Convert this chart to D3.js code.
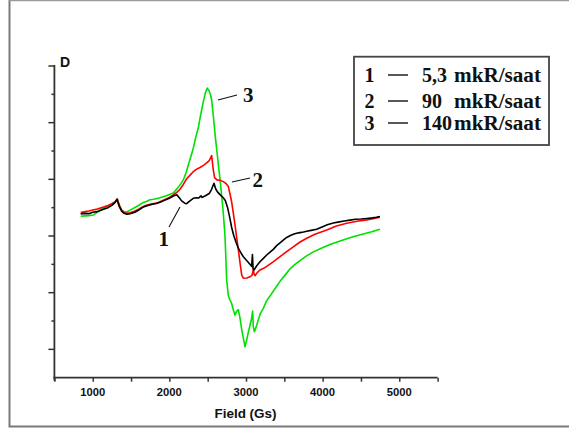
<!DOCTYPE html>
<html><head><meta charset="utf-8">
<script src="https://cdn.jsdelivr.net/npm/d3@7"></script>
<style>body{margin:0;background:#fff}svg{display:block}</style>
</head><body>
<script>
// Data (Field in Gs, D in arbitrary units; y axis unlabelled)
const series1 = [[843,5.78],[900,5.80],[950,5.79],[1000,5.84],[1060,5.86],[1100,5.90],[1150,5.95],[1200,6.00],[1250,6.08],[1290,6.18],[1315,6.29],[1345,6.05],[1378,5.88],[1410,5.80],[1444,5.77],[1490,5.79],[1550,5.84],[1600,5.92],[1660,6.02],[1720,6.08],[1780,6.12],[1830,6.15],[1878,6.19],[1920,6.24],[1960,6.29],[2000,6.33],[2052,6.41],[2096,6.46],[2130,6.35],[2160,6.24],[2200,6.16],[2226,6.14],[2260,6.22],[2312,6.33],[2350,6.35],[2380,6.34],[2413,6.42],[2425,6.36],[2470,6.42],[2520,6.50],[2550,6.64],[2582,6.86],[2605,6.66],[2630,6.55],[2661,6.46],[2700,6.36],[2730,6.25],[2760,6.00],[2790,5.62],[2813,5.30],[2840,5.02],[2870,4.78],[2900,4.57],[2935,4.40],[2965,4.27],[3000,4.16],[3040,4.04],[3074,3.93],[3084,4.35],[3092,3.85],[3104,3.80],[3140,3.95],[3182,4.09],[3230,4.22],[3270,4.33],[3310,4.42],[3356,4.53],[3400,4.66],[3444,4.76],[3490,4.86],[3531,4.95],[3580,5.02],[3617,5.06],[3660,5.10],[3704,5.12],[3750,5.14],[3792,5.17],[3850,5.20],[3922,5.24],[4000,5.33],[4060,5.40],[4139,5.46],[4200,5.49],[4280,5.53],[4357,5.56],[4430,5.59],[4500,5.60],[4575,5.62],[4650,5.64],[4700,5.66],[4748,5.69]];
const series2 = [[843,5.83],[900,5.86],[950,5.88],[1000,5.92],[1060,5.95],[1100,5.99],[1150,6.03],[1200,6.08],[1250,6.14],[1290,6.20],[1321,6.31],[1350,6.06],[1378,5.90],[1410,5.82],[1444,5.80],[1490,5.82],[1550,5.88],[1600,5.95],[1660,6.04],[1720,6.10],[1780,6.14],[1830,6.16],[1878,6.21],[1920,6.26],[1960,6.31],[2000,6.36],[2052,6.45],[2100,6.55],[2139,6.65],[2182,6.82],[2226,7.02],[2270,7.15],[2312,7.27],[2356,7.36],[2400,7.42],[2450,7.50],[2487,7.58],[2520,7.66],[2552,7.84],[2570,7.40],[2590,7.06],[2620,6.98],[2661,6.97],[2704,6.92],[2740,6.85],[2769,6.75],[2790,6.50],[2813,6.20],[2835,5.80],[2856,5.40],[2878,4.95],[2900,4.52],[2922,4.05],[2944,3.62],[2965,3.51],[3010,3.52],[3052,3.56],[3080,3.62],[3095,3.82],[3105,3.66],[3117,3.60],[3150,3.72],[3182,3.80],[3230,3.86],[3270,3.93],[3350,4.08],[3444,4.27],[3530,4.45],[3617,4.62],[3700,4.78],[3792,4.92],[3900,5.06],[4053,5.21],[4180,5.35],[4314,5.45],[4450,5.52],[4575,5.57],[4660,5.61],[4748,5.66]];
const series3 = [[843,5.70],[900,5.71],[950,5.72],[1008,5.74],[1060,5.84],[1100,5.93],[1138,5.98],[1200,6.06],[1250,6.14],[1290,6.20],[1321,6.30],[1350,6.08],[1378,5.92],[1410,5.86],[1444,5.85],[1500,5.93],[1574,6.04],[1650,6.17],[1700,6.22],[1748,6.28],[1800,6.30],[1878,6.35],[1960,6.42],[2052,6.52],[2110,6.70],[2150,6.85],[2182,6.98],[2220,7.25],[2252,7.55],[2280,7.80],[2312,8.10],[2346,8.50],[2380,8.85],[2410,9.30],[2440,9.70],[2470,10.05],[2495,10.22],[2520,10.12],[2540,9.95],[2552,9.80],[2575,9.20],[2595,8.62],[2620,8.00],[2640,7.50],[2661,7.00],[2685,6.35],[2704,5.80],[2726,5.00],[2748,3.45],[2769,2.90],[2790,2.75],[2813,2.62],[2834,2.40],[2856,2.21],[2880,2.35],[2900,2.40],[2922,2.10],[2944,1.70],[2965,1.40],[2987,1.09],[3010,1.35],[3030,1.60],[3052,1.85],[3074,2.10],[3087,2.35],[3095,1.80],[3110,1.62],[3140,1.85],[3160,2.04],[3190,2.28],[3226,2.45],[3270,2.72],[3313,2.88],[3380,3.15],[3444,3.40],[3510,3.62],[3577,3.85],[3640,4.00],[3704,4.13],[3790,4.30],[3878,4.44],[3990,4.58],[4096,4.70],[4200,4.80],[4314,4.90],[4420,4.99],[4530,5.07],[4640,5.15],[4748,5.24]];
const seriesColors = ["#000000", "#ff0000", "#00e000"];
const legendNums = ["1", "2", "3"];
const legendVals = ["5,3", "90", "140"];
const legendUnit = "mkR/saat";
const xTickValues = [500,1000,1500,2000,2500,3000,3500,4000,4500,5000,5500];
const xTickLabels = [1000,2000,3000,4000,5000];
const yTickValues = [0,1,2,3,4,5,6,7,8,9,10,11];
const xTitle = "Field (Gs)";
const yTitle = "D";

const W = 569, H = 428;
const svg = d3.select("body").append("svg").attr("width", W).attr("height", H);
svg.append("rect").attr("width", W).attr("height", H).attr("fill", "#fff");

// outer frame
svg.append("path").attr("d", "M9.5,0 V426.5 H569").attr("fill","none").attr("stroke","#7a7a7a").attr("stroke-width",2);
svg.append("line").attr("x1",9).attr("x2",569).attr("y1",0.5).attr("y2",0.5).attr("stroke","#9a9a9a").attr("stroke-width",1.5);

const x = d3.scaleLinear().domain([500, 5500]).range([54.4, 437.6]);
const y = d3.scaleLinear().domain([0, 11]).range([377.7, 66]);

const axisColor = "#333";
// y axis
const ya = svg.append("g").attr("transform", `translate(${x(500)},0)`);
ya.append("line").attr("x1",0).attr("x2",0).attr("y1",y(11)-1).attr("y2",y(0)+3).attr("stroke",axisColor).attr("stroke-width",1.8);
ya.selectAll("line.t").data(yTickValues.slice(1)).join("line").attr("class","t")
  .attr("x1", d => d % 2 === 1 ? -6 : -3).attr("x2", 0)
  .attr("y1", d => y(d)).attr("y2", d => y(d))
  .attr("stroke", axisColor).attr("stroke-width", 1.5);

// x axis
const xa = svg.append("g").attr("transform", `translate(0,${y(0)})`)
  .call(d3.axisBottom(x).tickValues(xTickValues).tickSize(4).tickFormat(""));
xa.select(".domain").attr("stroke", axisColor).attr("stroke-width", 1.8).attr("d", `M${x(500)-1},0H${x(5500)}`);
xa.selectAll(".tick line").attr("stroke", axisColor).attr("stroke-width", 1.5);
svg.append("g").selectAll("text").data(xTickLabels).join("text")
  .attr("x", d => x(d)).attr("y", 395.5).attr("text-anchor","middle")
  .attr("font-family","Liberation Sans, Arial, sans-serif").attr("font-weight","bold").attr("font-size",10.5)
  .attr("textLength", 25).attr("lengthAdjust","spacingAndGlyphs")
  .attr("fill","#111").text(d => d);

svg.append("text").attr("x", 245.5).attr("y", 417.5).attr("text-anchor","middle")
  .attr("font-family","Liberation Sans, Arial, sans-serif").attr("font-weight","bold").attr("font-size",12.5)
  .attr("textLength", 62).attr("lengthAdjust","spacingAndGlyphs").attr("fill","#111").text(xTitle);
svg.append("text").attr("x", 60).attr("y", 67)
  .attr("font-family","Liberation Sans, Arial, sans-serif").attr("font-weight","bold").attr("font-size",14)
  .attr("fill","#111").text(yTitle);

// curves
const line = d3.line().x(d => x(d[0])).y(d => y(d[1]));
const allSeries = [series1, series2, series3];
[2,1,0].forEach(i => {
  svg.append("path").datum(allSeries[i]).attr("d", line)
    .attr("fill","none").attr("stroke", seriesColors[i]).attr("stroke-width", 1.6)
    .attr("stroke-linejoin","round");
});

// annotations
const serif = "Liberation Serif, Times New Roman, serif";
const ann = [
  {t:"3", lx:243, ly:102, x1:218, y1:100, x2:237, y2:95},
  {t:"2", lx:252.5, ly:186.5, x1:232, y1:182, x2:250, y2:178},
  {t:"1", lx:158.5, ly:246, x1:169, y1:227, x2:180, y2:207}
];
ann.forEach(a => {
  svg.append("line").attr("x1",a.x1).attr("y1",a.y1).attr("x2",a.x2).attr("y2",a.y2).attr("stroke","#111").attr("stroke-width",1.1);
  svg.append("text").attr("x",a.lx).attr("y",a.ly).attr("font-family",serif).attr("font-weight","bold")
    .attr("font-size",21).attr("fill","#111").text(a.t);
});

// legend
svg.append("rect").attr("x",354).attr("y",56.7).attr("width",195).attr("height",88.3)
  .attr("fill","#fff").attr("stroke","#444").attr("stroke-width",1.8);
const rowsY = [82, 108, 130];
legendNums.forEach((n, i) => {
  const g = svg.append("g").attr("font-family", serif).attr("font-weight","bold").attr("font-size",20).attr("fill","#111");
  g.append("text").attr("x",364.5).attr("y",rowsY[i]).text(n);
  g.append("line").attr("x1",388).attr("x2",408).attr("y1",rowsY[i]-7).attr("y2",rowsY[i]-7).attr("stroke","#111").attr("stroke-width",1.4);
  g.append("text").attr("x",422).attr("y",rowsY[i]).text(legendVals[i]);
  g.append("text").attr("x",454).attr("y",rowsY[i]).attr("textLength",87).attr("lengthAdjust","spacingAndGlyphs").text(legendUnit);
});
</script>
</body></html>
